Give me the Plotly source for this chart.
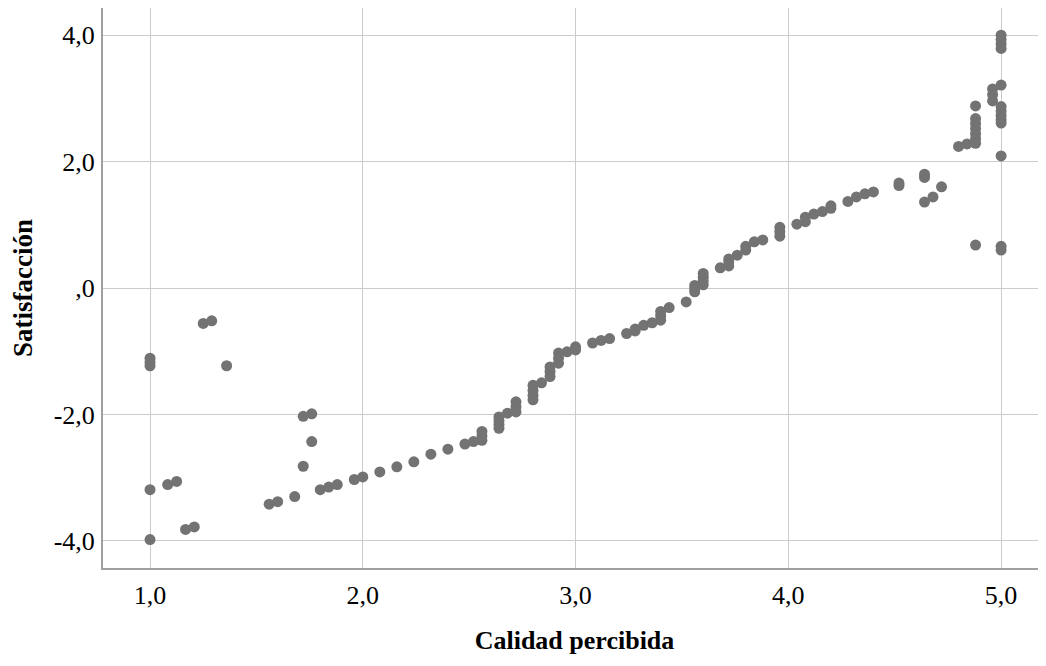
import plotly.graph_objects as go

# Data
calidad = [
    1.0, 1.0, 1.0, 1.0, 1.0,
    1.083, 1.125, 1.167, 1.208, 1.25, 1.29, 1.36,
    1.56, 1.60, 1.68, 1.72, 1.72, 1.76, 1.76, 1.80, 1.84, 1.88, 1.96,
    2.0, 2.08, 2.16, 2.24, 2.32, 2.40, 2.48, 2.52,
    2.56, 2.56, 2.56, 2.64, 2.64, 2.64, 2.64, 2.68,
    2.72, 2.72, 2.72, 2.80, 2.80, 2.80, 2.80, 2.84,
    2.88, 2.88, 2.88, 2.92, 2.92, 2.92, 2.96, 3.0, 3.0,
    3.08, 3.12, 3.16, 3.24, 3.28, 3.28, 3.32, 3.36,
    3.40, 3.40, 3.40, 3.44, 3.52, 3.56, 3.56, 3.56,
    3.60, 3.60, 3.60, 3.60, 3.68, 3.72, 3.72, 3.72, 3.76,
    3.80, 3.80, 3.84, 3.88, 3.96, 3.96, 3.96,
    4.04, 4.08, 4.08, 4.12, 4.16, 4.20, 4.20, 4.28, 4.32, 4.36, 4.40,
    4.52, 4.52, 4.64, 4.64, 4.64, 4.68, 4.72, 4.80, 4.84,
    4.88, 4.88, 4.88, 4.88, 4.88, 4.88, 4.88, 4.88,
    4.96, 4.96, 4.96,
    5.0, 5.0, 5.0, 5.0, 5.0, 5.0, 5.0, 5.0, 5.0, 5.0, 5.0, 5.0, 5.0,
]
satisfaccion = [
    -1.11, -1.17, -1.23, -3.19, -3.98,
    -3.11, -3.06, -3.82, -3.78, -0.56, -0.52, -1.23,
    -3.42, -3.38, -3.30, -2.03, -2.82, -1.99, -2.43, -3.19, -3.15, -3.11, -3.03,
    -2.99, -2.91, -2.83, -2.75, -2.63, -2.55, -2.47, -2.43,
    -2.27, -2.34, -2.41, -2.04, -2.10, -2.16, -2.22, -1.98,
    -1.80, -1.88, -1.96, -1.54, -1.62, -1.70, -1.77, -1.50,
    -1.25, -1.32, -1.40, -1.03, -1.11, -1.19, -1.01, -0.93, -0.98,
    -0.87, -0.83, -0.80, -0.72, -0.65, -0.68, -0.59, -0.55,
    -0.37, -0.44, -0.51, -0.31, -0.22, 0.04, -0.01, -0.06,
    0.05, 0.11, 0.17, 0.23, 0.32, 0.35, 0.41, 0.46, 0.52,
    0.60, 0.66, 0.73, 0.76, 0.82, 0.89, 0.96,
    1.01, 1.05, 1.12, 1.17, 1.21, 1.26, 1.30, 1.37, 1.44, 1.49, 1.52,
    1.62, 1.66, 1.75, 1.80, 1.36, 1.44, 1.60, 2.24, 2.28,
    2.88, 2.68, 2.60, 2.52, 2.44, 2.36, 2.29, 0.68,
    2.96, 3.06, 3.15,
    4.0, 3.93, 3.86, 3.79, 3.21, 2.87, 2.80, 2.73, 2.66, 2.61, 2.09, 0.60, 0.66,
]

x_tick_vals = [1, 2, 3, 4, 5]
x_tick_text = ["1,0", "2,0", "3,0", "4,0", "5,0"]
y_tick_vals = [-4, -2, 0, 2, 4]
y_tick_text = ["-4,0", "-2,0", ",0", "2,0", "4,0"]

FONT = "Liberation Serif, Times New Roman, serif"

fig = go.Figure()
fig.add_trace(go.Scatter(
    x=calidad, y=satisfaccion, mode="markers",
    marker=dict(size=11, color="rgb(115,115,115)", line=dict(width=0)),
    showlegend=False, hoverinfo="skip",
))

fig.update_layout(
    width=1038, height=658,
    margin=dict(l=95, r=0, t=0, b=98),
    paper_bgcolor="white", plot_bgcolor="white",
    font=dict(family=FONT, color="black", size=26),
    xaxis=dict(
        range=[0.779, 5.211],
        tickvals=x_tick_vals, ticktext=x_tick_text,
        showgrid=True, gridcolor="rgb(204,204,204)", gridwidth=1.3,
        showline=True, linecolor="rgb(160,160,160)", linewidth=2,
        zeroline=False, ticks="", ticklabelstandoff=3,
        tickfont=dict(family=FONT, size=26, color="black"),
        title=dict(text="<b>Calidad percibida</b>",
                   font=dict(family=FONT, size=26, color="black"), standoff=22),
    ),
    yaxis=dict(
        range=[-4.43, 4.43],
        tickvals=y_tick_vals, ticktext=y_tick_text,
        showgrid=True, gridcolor="rgb(204,204,204)", gridwidth=1.3,
        showline=True, linecolor="rgb(160,160,160)", linewidth=2,
        zeroline=False, ticks="", ticklabelstandoff=1,
        tickfont=dict(family=FONT, size=26, color="black"),
        title=dict(text="<b>Satisfacción</b>",
                   font=dict(family=FONT, size=27, color="black"), standoff=20),
    ),
)

fig.write_html("out.html")
